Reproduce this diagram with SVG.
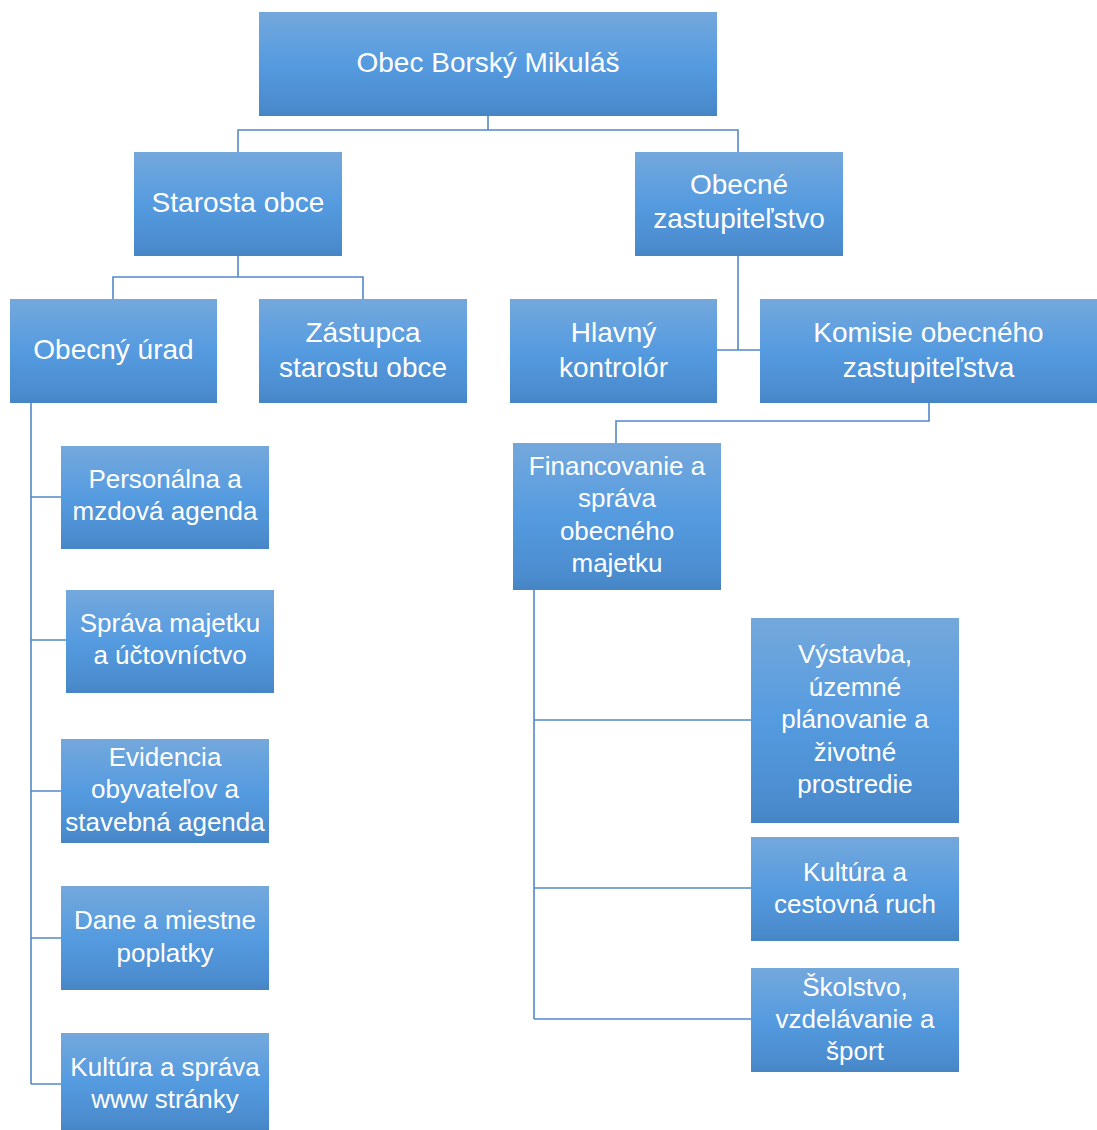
<svg xmlns="http://www.w3.org/2000/svg" width="1097" height="1130" viewBox="0 0 1097 1130">
<style>
.box{fill:url(#g)}
.t{font-family:"Liberation Sans",Arial,sans-serif;fill:#ffffff;text-anchor:middle}
.l{font-size:28px}
.s{font-size:26px}
.c{fill:none;stroke:#5089c8;stroke-width:1.6}
</style>
<defs>
<linearGradient id="g" x1="0" y1="0" x2="0" y2="1">
<stop offset="0" stop-color="#74a8dc"/>
<stop offset="0.5" stop-color="#559be0"/>
<stop offset="0.92" stop-color="#4a8bcd"/>
<stop offset="1" stop-color="#4585c5"/>
</linearGradient>
</defs>
<rect width="1097" height="1130" fill="#ffffff"/>
<g id="connectors">
<path class="c" d="M488 116 V130 M238 152 V130 H738 V152"/>
<path class="c" d="M238 256 V277 M113 299 V277 H363 V299"/>
<path class="c" d="M738 256 V350 M717 350 H760"/>
<path class="c" d="M929 403 V421 H616 V443"/>
<path class="c" d="M31 403 V1084 M31 497 H61 M31 640 H66 M31 791 H61 M31 938 H61 M31 1084 H61"/>
<path class="c" d="M534 590 V1019 M534 720 H751 M534 888 H751 M534 1019 H751"/>
</g>
<g id="n-obec"><rect class="box" x="259" y="12" width="458" height="104"/><text class="t l" x="488" y="72">Obec Borský Mikuláš</text></g>
<g id="n-starosta"><rect class="box" x="134" y="152" width="208" height="104"/><text class="t l" x="238" y="212">Starosta obce</text></g>
<g id="n-zastupitelstvo"><rect class="box" x="635" y="152" width="208" height="104"/><text class="t l" x="739" y="194">Obecné</text><text class="t l" x="739" y="228">zastupiteľstvo</text></g>
<g id="n-urad"><rect class="box" x="10" y="299" width="207" height="104"/><text class="t l" x="113.5" y="359">Obecný úrad</text></g>
<g id="n-zastupca"><rect class="box" x="259" y="299" width="208" height="104"/><text class="t l" x="363" y="342">Zástupca</text><text class="t l" x="363" y="377">starostu obce</text></g>
<g id="n-kontrolor"><rect class="box" x="510" y="299" width="207" height="104"/><text class="t l" x="613.5" y="342">Hlavný</text><text class="t l" x="613.5" y="377">kontrolór</text></g>
<g id="n-komisie"><rect class="box" x="760" y="299" width="337" height="104"/><text class="t l" x="928.5" y="342">Komisie obecného</text><text class="t l" x="928.5" y="377">zastupiteľstva</text></g>
<g id="n-financovanie"><rect class="box" x="513" y="443" width="208" height="147"/><text class="t s" x="617" y="475">Financovanie a</text><text class="t s" x="617" y="507">správa</text><text class="t s" x="617" y="540">obecného</text><text class="t s" x="617" y="572">majetku</text></g>
<g id="n-personalna"><rect class="box" x="61" y="446" width="208" height="103"/><text class="t s" x="165" y="488">Personálna a</text><text class="t s" x="165" y="520">mzdová agenda</text></g>
<g id="n-sprava"><rect class="box" x="66" y="590" width="208" height="103"/><text class="t s" x="170" y="632">Správa majetku</text><text class="t s" x="170" y="664">a účtovníctvo</text></g>
<g id="n-evidencia"><rect class="box" x="61" y="739" width="208" height="104"/><text class="t s" x="165" y="766">Evidencia</text><text class="t s" x="165" y="798">obyvateľov a</text><text class="t s" x="165" y="831">stavebná agenda</text></g>
<g id="n-dane"><rect class="box" x="61" y="886" width="208" height="104"/><text class="t s" x="165" y="929">Dane a miestne</text><text class="t s" x="165" y="962">poplatky</text></g>
<g id="n-kultura-www"><rect class="box" x="61" y="1033" width="208" height="97"/><text class="t s" x="165" y="1076">Kultúra a správa</text><text class="t s" x="165" y="1108">www stránky</text></g>
<g id="n-vystavba"><rect class="box" x="751" y="618" width="208" height="205"/><text class="t s" x="855" y="663">Výstavba,</text><text class="t s" x="855" y="696">územné</text><text class="t s" x="855" y="728">plánovanie a</text><text class="t s" x="855" y="761">životné</text><text class="t s" x="855" y="793">prostredie</text></g>
<g id="n-kultura-cr"><rect class="box" x="751" y="837" width="208" height="104"/><text class="t s" x="855" y="881">Kultúra a</text><text class="t s" x="855" y="913">cestovná ruch</text></g>
<g id="n-skolstvo"><rect class="box" x="751" y="968" width="208" height="104"/><text class="t s" x="855" y="996">Školstvo,</text><text class="t s" x="855" y="1028">vzdelávanie a</text><text class="t s" x="855" y="1060">šport</text></g>
</svg>
